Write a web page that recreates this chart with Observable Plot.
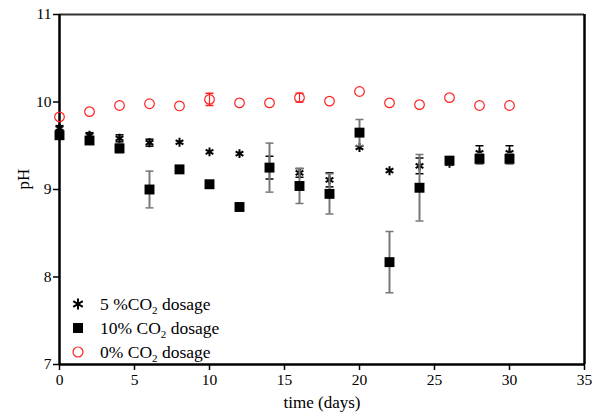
<!DOCTYPE html>
<html>
<head>
<meta charset="utf-8">
<script src="https://cdn.jsdelivr.net/npm/d3@7"></script>
<script src="https://cdn.jsdelivr.net/npm/@observablehq/plot@0.6"></script>
<style>
  html, body { margin: 0; padding: 0; background: #fff; }
  #wrap { position: relative; width: 600px; height: 415px; font-family: "Liberation Serif", "Times New Roman", serif; }
  #legend { position: absolute; left: 70px; top: 292px; font-size: 17.5px; color: #000; }
  #legend .row { display: flex; align-items: center; height: 24px; }
  #legend svg { width: 16px; height: 16px; margin-right: 14px; }
  #legend sub { font-size: 11px; vertical-align: -4px; line-height: 0; }
</style>
</head>
<body>
<div id="wrap"></div>
<script>
const days  = [0, 2, 4, 6, 8, 10, 12, 14, 16, 18, 20, 22, 24, 26, 28, 30];
const ph0   = [9.83, 9.89, 9.96, 9.98, 9.955, 10.03, 9.99, 9.99, 10.05, 10.01, 10.12, 9.99, 9.97, 10.05, 9.96, 9.96];
const err0  = [0, 0, 0, 0, 0, 0.07, 0, 0, 0.05, 0, 0, 0, 0, 0, 0, 0];
const ph5   = [9.70, 9.62, 9.585, 9.535, 9.54, 9.43, 9.41, 9.25, 9.19, 9.11, 9.48, 9.215, 9.27, 9.30, 9.42, 9.42];
const err5  = [0.03, 0.03, 0.04, 0.04, 0, 0, 0, 0.13, 0.05, 0.08, 0, 0, 0.09, 0, 0.08, 0.08];
const ph10  = [9.62, 9.56, 9.47, 9.00, 9.23, 9.06, 8.80, 9.25, 9.04, 8.95, 9.65, 8.17, 9.02, 9.33, 9.35, 9.35];
const err10 = [0.03, 0.03, 0.05, 0.21, 0, 0.04, 0, 0.28, 0.20, 0.23, 0.15, 0.35, 0.38, 0.03, 0.06, 0.06];
const xTicks = [0, 5, 10, 15, 20, 25, 30, 35];
const yTicks = [7, 8, 9, 10, 11];

const mk = (vals, errs, series) => days.map((d, i) => ({day: d, ph: vals[i], err: errs[i], series}));
const d0 = mk(ph0, err0, "0%");
const d5 = mk(ph5, err5, "5%");
const d10 = mk(ph10, err10, "10%");

const cap = {draw(ctx, size) { const r = 4; ctx.moveTo(-r, 0); ctx.lineTo(r, 0); }};

function errMarks(data, color, width) {
  const e = data.filter(d => d.err > 0);
  return [
    Plot.ruleX(e, {x: "day", y1: d => d.ph - d.err, y2: d => d.ph + d.err, stroke: color, strokeWidth: width}),
    Plot.dot(e, {x: "day", y: d => d.ph - d.err, symbol: cap, stroke: color, strokeWidth: 1.5, r: 4}),
    Plot.dot(e, {x: "day", y: d => d.ph + d.err, symbol: cap, stroke: color, strokeWidth: 1.5, r: 4})
  ];
}

const chart = Plot.plot({
  width: 600,
  height: 415,
  marginLeft: 59,
  marginRight: 16,
  marginTop: 14,
  marginBottom: 51,
  style: {fontFamily: "'Liberation Serif', 'Times New Roman', serif", fontSize: "15px", color: "#000", background: "#fff"},
  x: {domain: [0, 35], ticks: xTicks, label: null},
  y: {domain: [7, 11], ticks: yTicks, label: null},
  marks: [
    Plot.ruleY([11], {stroke: "#333", strokeWidth: 2}),
    Plot.ruleX([35], {stroke: "#000", strokeWidth: 2.5}),
    Plot.axisX({ticks: xTicks, tickFormat: "d", tickSize: 6, tickPadding: 3, strokeWidth: 1.5, fontSize: 15.5, label: null}),
    Plot.axisY({ticks: yTicks, tickFormat: "d", tickSize: 6, tickPadding: 2, strokeWidth: 1.5, fontSize: 15.5, label: null}),
    Plot.ruleY([7], {stroke: "#000", strokeWidth: 2.5}),
    Plot.ruleX([0], {stroke: "#000", strokeWidth: 2.5}),
    ...errMarks(d0, "#ff2020", 1.2),
    Plot.dot(d0, {x: "day", y: "ph", symbol: "circle", r: 4.8, stroke: "#ff2020", strokeWidth: 1.2, fill: "none"}),
    ...errMarks(d5, "#000", 1.5),
    Plot.dot(d5, {x: "day", y: "ph", symbol: "asterisk", r: 4.2, stroke: "#000", strokeWidth: 2}),
    ...errMarks(d10, "#777", 2),
    Plot.dot(d10, {x: "day", y: "ph", symbol: "square", r: 5.6, fill: "#000", stroke: "none"}),
    Plot.text(["pH"], {frameAnchor: "left", dx: -36, rotate: -90, fontSize: 17}),
    Plot.text(["time (days)"], {frameAnchor: "bottom", dy: 43, fontSize: 17})
  ]
});

const wrap = document.getElementById("wrap");
wrap.appendChild(chart);

const legendItems = [
  {sym: '<path d="M8 2.5V13.5M3.2 5.2L12.8 10.8M3.2 10.8L12.8 5.2" stroke="#000" stroke-width="2"/>', label: '5 %CO<sub>2</sub> dosage'},
  {sym: '<rect x="3" y="3" width="10" height="10" fill="#000"/>', label: '10% CO<sub>2</sub> dosage'},
  {sym: '<circle cx="8" cy="8" r="5" fill="none" stroke="#ff2020" stroke-width="1.2"/>', label: '0% CO<sub>2</sub> dosage'}
];
const legend = document.createElement("div");
legend.id = "legend";
legend.innerHTML = legendItems.map(it =>
  `<div class="row"><svg viewBox="0 0 16 16">${it.sym}</svg><span>${it.label}</span></div>`).join("");
wrap.appendChild(legend);
</script>
</body>
</html>
